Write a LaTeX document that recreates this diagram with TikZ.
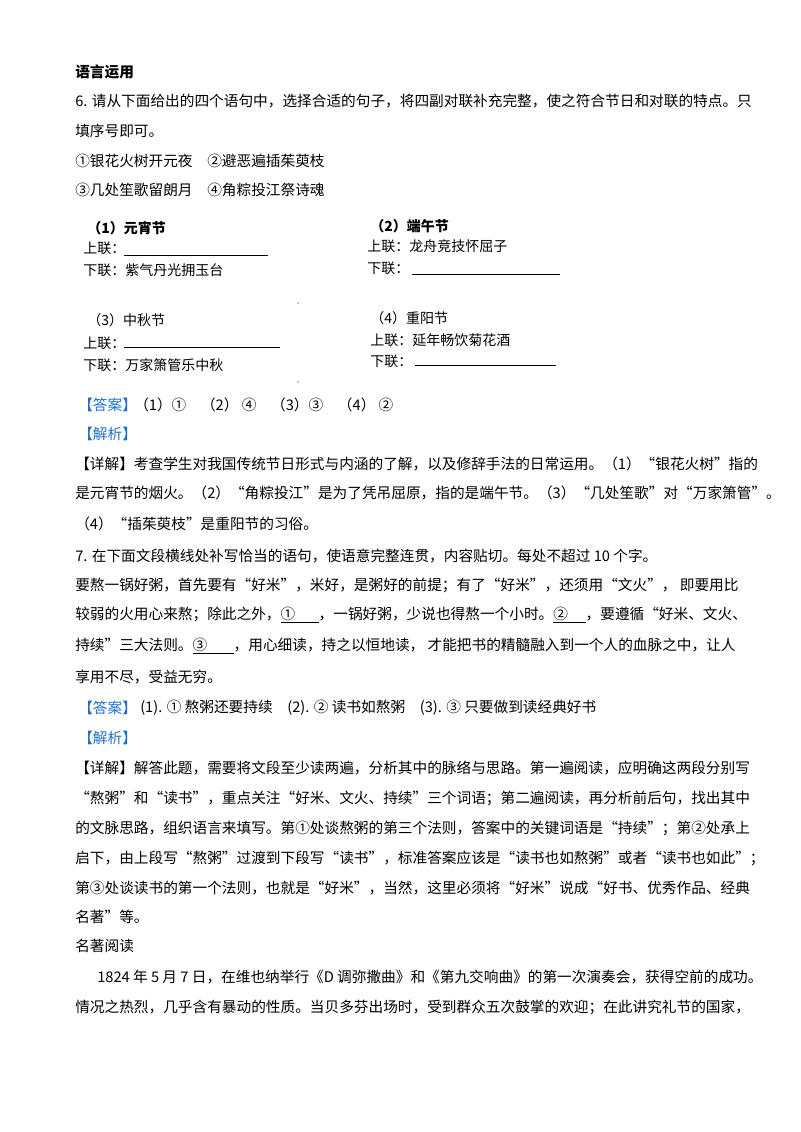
\documentclass[tikz,border=0pt]{standalone}
\usepackage{fontspec}
\setmainfont{Liberation Serif}
\newfontfamily\cjk{Noto Sans CJK SC}
\definecolor{ansblue}{RGB}{30,110,200}
\tikzset{txt/.style={anchor=west, inner sep=0pt, font=\cjk\fontsize{11}{13}\selectfont},
  blank/.style={draw=black, line width=0.6pt}}
\begin{document}
\begin{tikzpicture}[x=0.75pt,y=-0.75pt]
\useasboundingbox (0,0) rectangle (800,1132);
\node [txt, font=\cjk\bfseries\fontsize{11}{13}\selectfont] (h1) at (75,72) {语言运用};
\node [txt] (q6a) at (75,101) {6. 请从下面给出的四个语句中，选择合适的句子，将四副对联补充完整，使之符合节日和对联的特点。只};
\node [txt] (q6b) at (75,131) {填序号即可。};
\node [txt] (opt1) at (75,161) {①银花火树开元夜\quad ②避恶遍插茱萸枝};
\node [txt] (opt2) at (75,190) {③几处笙歌留朗月\quad ④角粽投江祭诗魂};
% couplet (1)
\node [txt, font=\cjk\bfseries\fontsize{10.5}{12}\selectfont] (c1t) at (87,228) {（1）元宵节};
\node [txt, font=\cjk\fontsize{10.5}{12}\selectfont] (c1a) at (83,248) {上联：};
\draw [blank] (124,255) -- (268,255);
\node [txt, font=\cjk\fontsize{10.5}{12}\selectfont] (c1b) at (83,270) {下联：紫气丹光拥玉台};
% couplet (2)
\node [txt, font=\cjk\bfseries\fontsize{10.5}{12}\selectfont] (c2t) at (370,226) {（2）端午节};
\node [txt, font=\cjk\fontsize{10.5}{12}\selectfont] (c2a) at (367,246) {上联：龙舟竞技怀屈子};
\node [txt, font=\cjk\fontsize{10.5}{12}\selectfont] (c2b) at (367,268) {下联：};
\draw [blank] (412,274) -- (560,274);
% couplet (3)
\node [txt, font=\cjk\fontsize{10.5}{12}\selectfont] (c3t) at (87,320) {（3）中秋节};
\node [txt, font=\cjk\fontsize{10.5}{12}\selectfont] (c3a) at (83,343) {上联：};
\draw [blank] (124,347) -- (280,347);
\node [txt, font=\cjk\fontsize{10.5}{12}\selectfont] (c3b) at (83,365) {下联：万家箫管乐中秋};
% couplet (4)
\node [txt, font=\cjk\fontsize{10.5}{12}\selectfont] (c4t) at (370,318) {（4）重阳节};
\node [txt, font=\cjk\fontsize{10.5}{12}\selectfont] (c4a) at (370,340) {上联：延年畅饮菊花酒};
\node [txt, font=\cjk\fontsize{10.5}{12}\selectfont] (c4b) at (370,361) {下联：};
\draw [blank] (415,365) -- (556,365);
\fill (298,303) circle (0.6);
\fill (298,382) circle (0.6);
% answer 6
\node [txt, text=ansblue] (a6) at (78,405) {【答案】};
\node [txt] (a6t) at (134,405) {（1）①\quad （2）\ ④\quad （3）③\quad （4）\ ②};
\node [txt, text=ansblue] (j6) at (78,434) {【解析】};
\node [txt] (d6a) at (75,464) {【详解】考查学生对我国传统节日形式与内涵的了解，以及修辞手法的日常运用。（1）“银花火树”指的};
\node [txt] (d6b) at (75,493) {是元宵节的烟火。（2）“角粽投江”是为了凭吊屈原，指的是端午节。（3）“几处笙歌”对“万家箫管”。};
\node [txt] (d6c) at (75,524) {（4）“插茱萸枝”是重阳节的习俗。};
% question 7
\node [txt] (q7a) at (75,556) {7. 在下面文段横线处补写恰当的语句，使语意完整连贯，内容贴切。每处不超过 10 个字。};
\node [txt] (q7b) at (75,585) {要熬一锅好粥，首先要有“好米”，米好，是粥好的前提；有了“好米”，还须用“文火”，\ 即要用比};
\node [txt] (q7c) at (75,615) {较弱的火用心来熬；除此之外，\underline{①\hspace{1.6em}}，一锅好粥，少说也得熬一个小时。\underline{②\hspace{1.2em}}，要遵循“好米、文火、};
\node [txt] (q7d) at (75,646) {持续”三大法则。\underline{③\hspace{1.8em}}，用心细读，持之以恒地读，\ 才能把书的精髓融入到一个人的血脉之中，让人};
\node [txt] (q7e) at (75,677) {享用不尽，受益无穷。};
\node [txt, text=ansblue] (a7) at (78,708) {【答案】};
\node [txt] (a7t) at (140,708) {(1). ① 熬粥还要持续\quad (2). ② 读书如熬粥\quad (3). ③ 只要做到读经典好书};
\node [txt, text=ansblue] (j7) at (78,738) {【解析】};
\node [txt] (d7a) at (75,768) {【详解】解答此题，需要将文段至少读两遍，分析其中的脉络与思路。第一遍阅读，应明确这两段分别写};
\node [txt] (d7b) at (75,798) {“熬粥”和“读书”，重点关注“好米、文火、持续”三个词语；第二遍阅读，再分析前后句，找出其中};
\node [txt] (d7c) at (75,828) {的文脉思路，组织语言来填写。第①处谈熬粥的第三个法则，答案中的关键词语是“持续”；第②处承上};
\node [txt] (d7d) at (75,858) {启下，由上段写“熬粥”过渡到下段写“读书”，标准答案应该是“读书也如熬粥”或者“读书也如此”；};
\node [txt] (d7e) at (75,888) {第③处谈读书的第一个法则，也就是“好米”，当然，这里必须将“好米”说成“好书、优秀作品、经典};
\node [txt] (d7f) at (75,917) {名著”等。};
% reading
\node [txt] (r0) at (75,946) {名著阅读};
\node [txt] (r1) at (97,977) {1824 年 5 月 7 日，在维也纳举行《D 调弥撒曲》和《第九交响曲》的第一次演奏会，获得空前的成功。};
\node [txt] (r2) at (75,1007) {情况之热烈，几乎含有暴动的性质。当贝多芬出场时，受到群众五次鼓掌的欢迎；在此讲究礼节的国家，};
\end{tikzpicture}
\end{document}
